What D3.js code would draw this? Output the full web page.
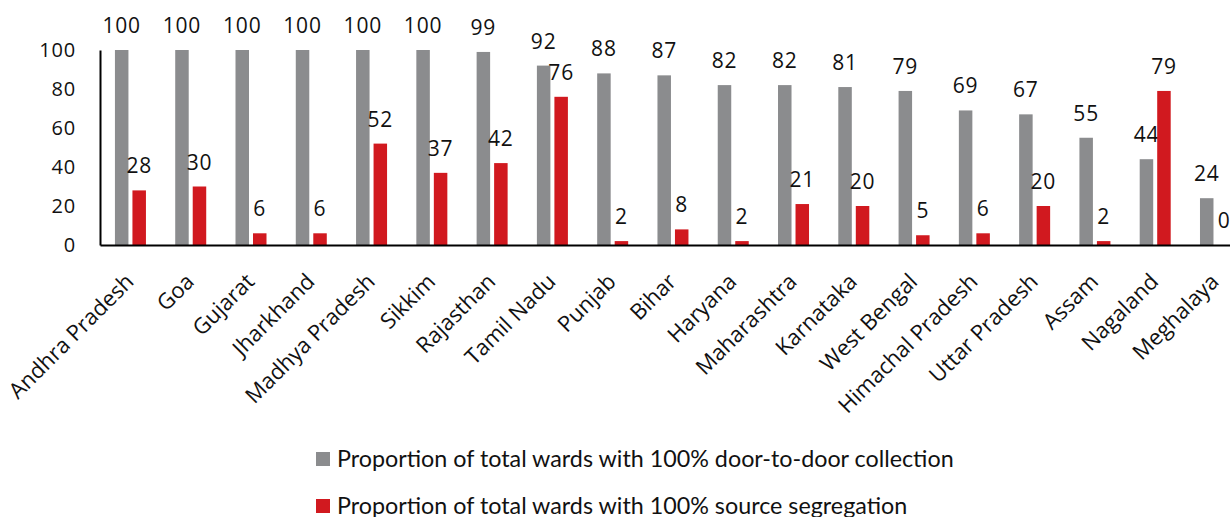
<!DOCTYPE html>
<html>
<head>
<meta charset="utf-8">
<script src="https://cdn.jsdelivr.net/npm/d3@7"></script>
<style>
  html, body { margin: 0; padding: 0; background: #fff; }
  svg { display: block; }
</style>
</head>
<body>
<svg id="chart" width="1230" height="517"></svg>
<script>
const categories = ["Andhra Pradesh","Goa","Gujarat","Jharkhand","Madhya Pradesh","Sikkim","Rajasthan","Tamil Nadu","Punjab","Bihar","Haryana","Maharashtra","Karnataka","West Bengal","Himachal Pradesh","Uttar Pradesh","Assam","Nagaland","Meghalaya"];
const doorToDoor = [100,100,100,100,100,100,99,92,88,87,82,82,81,79,69,67,55,44,24];
const sourceSeg = [28,30,6,6,52,37,42,76,2,8,2,21,20,5,6,20,2,79,0];
const yTicks = [0,20,40,60,80,100];
const seriesNames = ["Proportion of total wards with 100% door-to-door collection","Proportion of total wards with 100% source segregation"];
const seriesColors = ["#8b8c8e","#d1191f"];

const svg = d3.select("#chart");
const x0 = 100, step = 60.28;
const x = d3.scaleBand().domain(categories).range([x0, x0 + step * categories.length]).paddingInner(0).paddingOuter(0);
const sub = d3.scaleBand().domain([0,1]).range([-15.2, 15.8]).paddingInner(0.2286).paddingOuter(0);
const y = d3.scaleLinear().domain([0,100]).range([245, 50]);

const series = [doorToDoor, sourceSeg];
const numFont = "'Open Sans', sans-serif";

// bars
series.forEach((vals, si) => {
  const g = svg.append("g");
  g.selectAll("rect").data(vals).join("rect")
    .attr("x", (d,i) => x(categories[i]) + x.bandwidth()/2 + sub(si))
    .attr("width", sub.bandwidth())
    .attr("y", d => y(d))
    .attr("height", d => y(0) - y(d))
    .attr("fill", seriesColors[si]);
  g.selectAll("text").data(vals).join("text")
    .attr("x", (d,i) => x(categories[i]) + x.bandwidth()/2 + sub(si) + sub.bandwidth()/2)
    .attr("y", d => y(d) - 17)
    .attr("text-anchor", "middle")
    .attr("font-family", numFont)
    .attr("font-size", 21)
    .attr("letter-spacing", 0.8)
    .attr("fill", "#111")
    .text(d => d);
});

// y axis
const yAxis = svg.append("g").attr("transform", `translate(${x0},0)`)
  .call(d3.axisLeft(y).tickValues(yTicks).tickSize(0).tickPadding(24));
yAxis.select(".domain").attr("stroke", "#000").attr("stroke-width", 2);
yAxis.selectAll("text").attr("font-family", numFont).attr("font-size", 20).attr("letter-spacing", 0.8).attr("fill", "#111");

// x axis
const xAxis = svg.append("g").attr("transform", `translate(0,${y(0)})`)
  .call(d3.axisBottom(x).tickSize(0).tickSizeOuter(0));
xAxis.select(".domain").attr("stroke", "#000").attr("stroke-width", 2);
xAxis.selectAll("text")
  .attr("x", 0).attr("y", 0).attr("dy", 0)
  .attr("transform", "translate(5,38) rotate(-45)")
  .attr("text-anchor", "end")
  .attr("font-family", "'Open Sans', sans-serif")
  .attr("font-size", 22)
  .attr("fill", "#111");

// legend
const legendY = [452, 499];
seriesNames.forEach((name, i) => {
  svg.append("rect").attr("x", 316).attr("y", legendY[i]).attr("width", 14).attr("height", 14).attr("fill", seriesColors[i]);
  svg.append("text").attr("x", 337).attr("y", legendY[i] + 15)
    .attr("font-family", "Lato, sans-serif").attr("font-size", 23.3).attr("fill", "#111")
    .text(name);
});
</script>
</body>
</html>
